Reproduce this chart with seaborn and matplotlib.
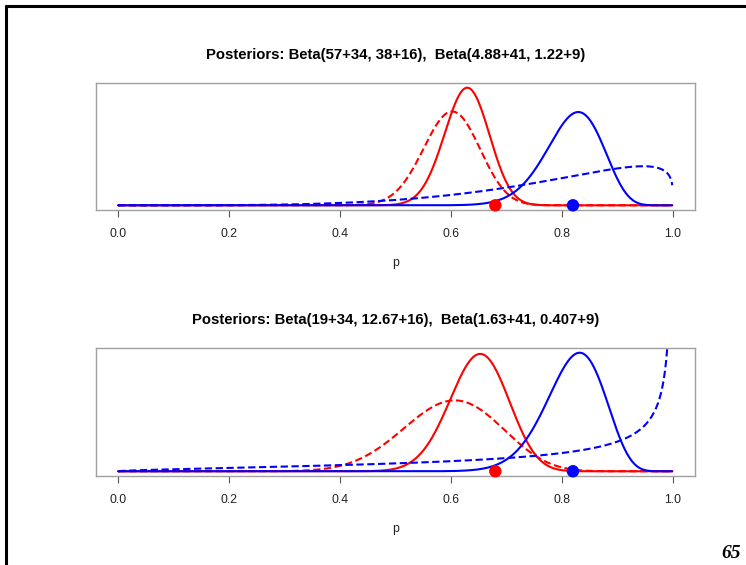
import math
import numpy as np
import matplotlib
matplotlib.use("Agg")
import matplotlib.pyplot as plt
import seaborn as sns
from matplotlib.lines import Line2D

# dados observados nos dois grupos (vermelho, azul)
sucessos = [34, 41]
falhas = [16, 9]
p_obs = [0.68, 0.82]

prior_a_cima = [57, 4.88]
prior_b_cima = [38, 1.22]
prior_a_baixo = [19, 1.63]
prior_b_baixo = [12.67, 0.407]

titulos = [
    "Posteriors: Beta(57+34, 38+16),  Beta(4.88+41, 1.22+9)",
    "Posteriors: Beta(19+34, 12.67+16),  Beta(1.63+41, 0.407+9)",
]
ticks = [0.0, 0.2, 0.4, 0.6, 0.8, 1.0]
tick_labels = ["0.0", "0.2", "0.4", "0.6", "0.8", "1.0"]
cores = ["red", "blue"]
numero_slide = "65"


def dbeta(x, a, b):
    log_b = math.lgamma(a) + math.lgamma(b) - math.lgamma(a + b)
    with np.errstate(divide="ignore", invalid="ignore"):
        return np.exp((a - 1) * np.log(x) + (b - 1) * np.log1p(-x) - log_b)


sns.set_style("white")
plt.rcParams["font.family"] = ["Liberation Sans", "DejaVu Sans"]

fig = plt.figure(figsize=(7.46, 5.65), dpi=100)

x = np.linspace(0, 0.999, 1000)

paineis = [
    (prior_a_cima, prior_b_cima, [0.1287, 0.6283, 0.8029, 0.2248]),
    (prior_a_baixo, prior_b_baixo, [0.1287, 0.1575, 0.8029, 0.2266]),
]

for i, (pa, pb, pos) in enumerate(paineis):
    ax = fig.add_axes(pos)
    maximo = 0
    for k in range(2):
        a_post = pa[k] + sucessos[k]
        b_post = pb[k] + falhas[k]
        dens_post = dbeta(x, a_post, b_post)
        dens_prior = dbeta(x, pa[k], pb[k])
        maximo = max(maximo, np.nanmax(dens_post))
        sns.lineplot(x=x, y=dens_post, color=cores[k], linewidth=1.5,
                     ax=ax, zorder=2)
        sns.lineplot(x=x, y=dens_prior, color=cores[k], linewidth=1.5,
                     linestyle=(0, (3.5, 1.7)), ax=ax, zorder=2)
    sns.scatterplot(x=p_obs, y=[0, 0], hue=cores, palette=cores,
                    legend=False, s=80, linewidth=0,
                    ax=ax, zorder=3, clip_on=False)

    ax.set_xlim(-0.04, 1.04)
    ax.set_ylim(-0.04 * maximo, 1.04 * maximo)
    ax.set_yticks([])
    ax.set_ylabel("")
    ax.set_xticks(ticks)
    ax.set_xticklabels(tick_labels)
    ax.tick_params(axis="x", bottom=True, direction="out", length=5,
                   width=0.8, color="#555555", pad=8, labelsize=8.8,
                   labelcolor="#222222")
    for sp in ax.spines.values():
        sp.set_color("#a0a0a0")
        sp.set_linewidth(1.0)
    ax.set_xlabel("p", fontsize=8.8, color="#222222", labelpad=12)
    ax.set_title(titulos[i], fontsize=10.7, fontweight="bold", pad=17,
                 color="black")

# moldura do slide
fig.add_artist(Line2D([0.008, 0.008], [0, 0.99], transform=fig.transFigure,
                      color="black", linewidth=2.2))
fig.add_artist(Line2D([0.008, 1.0], [0.99, 0.99], transform=fig.transFigure,
                      color="black", linewidth=2.2))
fig.text(0.993, 0.005, numero_slide, ha="right", va="bottom", fontsize=14,
         fontweight="bold", fontstyle="italic", color="black",
         family=["Liberation Serif", "DejaVu Serif"])

fig.savefig("out.png", dpi=100)
